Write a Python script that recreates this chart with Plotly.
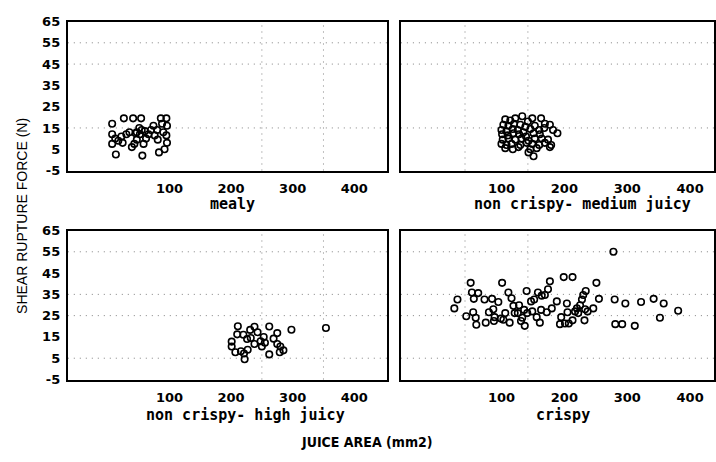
import plotly.graph_objects as go
from plotly.subplots import make_subplots

# ---------------- data ----------------
categories = ["mealy", "non crispy- medium juicy", "non crispy- high juicy", "crispy"]

mealy_x = [7, 7, 7, 13, 12, 17, 22, 24, 26, 30, 35, 41, 54, 47, 39, 43, 47, 52, 58, 51,
           55, 56, 62, 60, 74, 76, 81, 80, 86, 95, 96, 90, 95, 96, 92, 83, 70, 88, 66, 45]
mealy_y = [17, 12, 7.5, 2.5, 10, 9, 11, 8, 19.5, 12, 13, 19.5, 19.5, 13, 6, 7.5, 9.5, 12, 7.5, 15,
           14, 2, 10, 13.5, 16, 11.5, 9.5, 14, 19.5, 19.5, 16, 13, 11.5, 8, 5, 3.5, 14, 17, 12, 12.5]

medium_x = [106, 114, 122, 133, 142, 149, 163,
            103, 111, 120, 130, 138, 153, 169, 177,
            100, 108, 118, 126, 135, 146, 160, 168, 182,
            101, 110, 119, 128, 139, 151, 161, 189,
            102, 111, 122, 132, 143, 153, 164, 174,
            100, 108, 116, 130, 140, 149, 160, 169, 179,
            106, 118, 127, 146, 156, 177,
            143, 151]
medium_y = [19, 18.5, 19.5, 20.5, 18, 19.5, 19.5,
            16.5, 16, 17, 16.5, 15.5, 16, 17, 16.5,
            14, 13.5, 14.5, 14, 13, 14.5, 14, 15, 14,
            12, 11.5, 12.5, 12, 11, 12.5, 12, 12.5,
            9.5, 10, 9.5, 10, 9, 10, 10, 9.5,
            7.5, 7, 7.5, 7, 8, 7.5, 7, 8, 7,
            5.5, 5, 6, 5, 5.5, 6,
            3.5, 1.7]

high_x = [211, 210, 201, 201, 207, 220, 226, 227, 221, 222, 231, 238, 243, 238, 250,
          253, 255, 262, 262, 269, 275, 275, 279, 280, 285, 298, 354, 216, 232, 248]
high_y = [20, 16.2, 12.8, 10.5, 7.8, 16, 14, 9, 7.2, 4.5, 18.3, 19.8, 17.2, 11.7, 10.5,
          15, 12.3, 19.9, 6.8, 14.2, 16.8, 11.7, 7.8, 10.5, 8.7, 18.4, 19.2, 8.3, 14.5, 13]

crispy_x = [25, 30, 44, 51, 53, 55, 56, 59, 60, 63, 73, 75, 80, 85, 87, 88, 89, 95, 99, 101,
            103, 106, 111, 113, 116, 119, 121, 126, 128, 131, 133, 136, 137, 140, 141, 147, 149, 152, 156, 158,
            161, 163, 164, 169, 172, 174, 177, 180, 188, 195, 193, 199, 201, 204, 205, 207, 213, 213, 217, 220,
            222, 225, 228, 230, 232, 233, 234, 237, 246, 251, 255, 278, 280, 281, 292, 297, 312, 322, 342, 352,
            358, 381]
crispy_y = [28.4, 32.6, 24.7, 40.4, 35.9, 26.6, 32.9, 24, 20.7, 35.6, 32.6, 21.7, 26.6, 32.9, 28, 22.5, 24.3, 31.4, 23.6, 40.4,
            23.1, 26.2, 35.9, 21.7, 33.2, 29.6, 26.2, 26.2, 29.9, 22.5, 24, 27.7, 20.2, 36.6, 26.2, 31.7, 27, 32.6, 24.3, 35.9,
            21.7, 27.7, 34.4, 34.7, 26.6, 37.4, 41.1, 28.4, 31.7, 24.3, 21, 43.1, 21.3, 30.7, 26.6, 21.3, 43.1, 22.8, 27, 28.4,
            26.2, 29.9, 32.6, 34.7, 22.8, 28, 36.6, 27, 28.4, 40.4, 32.9, 55, 32.6, 21, 21, 30.7, 20.2, 31.4, 32.9, 24,
            30.7, 27.3]

x_tick_vals = [100, 200, 300, 400]
x_tick_text = ["100", "200", "300", "400"]
y_tick_vals = [-5, 5, 15, 25, 35, 45, 55, 65]
y_tick_text = ["-5", "5", "15", "25", "35", "45", "55", "65"]

# grid line positions as they appear in each panel
x_grid_left = [250, 350]
x_grid_right = [42, 142]
y_grid_top = [15, 45, 55]
y_grid_bottom = [5, 25, 35, 55]

x_title = "JUICE AREA (mm2)"
y_title = "SHEAR RUPTURE FORCE (N)"

# ---------------- figure ----------------
W, H = 716, 462
fig = make_subplots(rows=2, cols=2)

series = [(mealy_x, mealy_y, 1, 1), (medium_x, medium_y, 1, 2),
          (high_x, high_y, 2, 1), (crispy_x, crispy_y, 2, 2)]
for xs, ys, r, c in series:
    fig.add_trace(go.Scatter(
        x=xs, y=ys, mode="markers",
        marker=dict(symbol="circle-open", size=6.5, color="black", line=dict(width=1.6, color="black")),
        showlegend=False, hoverinfo="skip"), row=r, col=c)

px_x = lambda p: p / W
px_y = lambda p: 1 - p / H

dom_x = {1: [px_x(68), px_x(388)], 2: [px_x(402), 1.0]}
dom_y = {1: [px_y(169), px_y(15)], 2: [px_y(385), px_y(231)]}
rng_x = {1: [-65, 453], 2: [-60, 438]}
grid_x = {1: x_grid_left, 2: x_grid_right}
grid_y = {1: y_grid_top, 2: y_grid_bottom}

tick_font = dict(family="DejaVu Sans", size=13, color="black", weight="bold")
grid_line = dict(color="#808080", width=1, dash="1px,5px")

axis_id = {(1, 1): "", (1, 2): "2", (2, 1): "3", (2, 2): "4"}

for r in (1, 2):
    for c in (1, 2):
        fig.update_xaxes(row=r, col=c, domain=dom_x[c], range=rng_x[c],
                         tickmode="array", tickvals=x_tick_vals, ticktext=x_tick_text,
                         showgrid=False, zeroline=False, ticks="",
                         showline=True, mirror=True, linecolor="black", linewidth=2,
                         tickfont=tick_font, ticklabelstandoff=5)
        fig.update_yaxes(row=r, col=c, domain=dom_y[r], range=[-5, 65],
                         tickmode="array", tickvals=y_tick_vals, ticktext=y_tick_text,
                         showticklabels=(c == 1),
                         showgrid=False, zeroline=False, ticks="",
                         showline=True, mirror=True, linecolor="black", linewidth=2,
                         tickfont=tick_font, ticklabelstandoff=3)
        aid = axis_id[(r, c)]
        for gx in grid_x[c]:
            fig.add_shape(type="line", xref="x" + aid, yref="y" + aid + " domain",
                          x0=gx, x1=gx, y0=0, y1=1, line=grid_line, layer="below")
        for gy in grid_y[r]:
            fig.add_shape(type="line", xref="x" + aid + " domain", yref="y" + aid,
                          x0=0, x1=1, y0=gy, y1=gy, line=grid_line, layer="below")

sub_font = dict(family="DejaVu Sans Mono", size=15, color="black", weight="bold")
sub_pos = [(233, 204), (584, 204), (246, 422), (565, 422)]
for label, (xp, yp) in zip(categories, sub_pos):
    fig.add_annotation(text=label, x=px_x(xp), y=px_y(yp), xref="paper", yref="paper",
                       showarrow=False, xanchor="center", yanchor="middle", font=sub_font)

fig.add_annotation(text=x_title, x=px_x(368), y=px_y(450), xref="paper", yref="paper",
                   showarrow=False, xanchor="center", yanchor="middle",
                   font=dict(family="Liberation Sans Narrow, DejaVu Sans Condensed", size=14,
                             color="black", weight="bold"))
fig.add_annotation(text=y_title, x=px_x(22), y=px_y(216), xref="paper", yref="paper",
                   showarrow=False, xanchor="center", yanchor="middle", textangle=-90,
                   font=dict(family="Liberation Sans, Arial", size=14, color="black"))

fig.update_layout(width=W, height=H, autosize=False,
                  margin=dict(l=0, r=0, t=0, b=0, pad=0),
                  paper_bgcolor="white", plot_bgcolor="white")

fig.write_html("out.html")
